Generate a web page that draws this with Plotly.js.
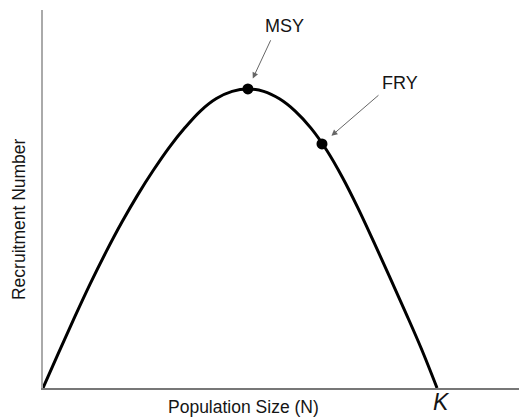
<!DOCTYPE html>
<html>
<head>
<meta charset="utf-8">
<script src="https://cdn.plot.ly/plotly-3.0.1.min.js"></script>
<style>html,body{margin:0;padding:0;background:#fff;}#chart{width:519px;height:417px;}</style>
</head>
<body>
<div id="chart"></div>
<script>
// Population size (percent of K) and recruitment (percent of MSY)
var popSize = [0, 4, 8, 12, 16, 20, 24, 28, 32, 36, 40, 44, 48, 52, 56, 60, 64, 68, 72, 76, 80, 84, 88, 92, 96, 100];
var recruitment = [0, 11.9, 23.6, 34.9, 45.5, 55.4, 64.5, 72.8, 80.4, 87.0, 92.7, 96.8, 99.2, 100, 99.2, 96.7, 92.6, 86.9, 79.5, 70.4, 60.0, 48.7, 37.1, 25.3, 13.2, 0];
var pointLabels = ["MSY", "FRY"];
var pointX = [52, 70.8];
var pointY = [100, 81.6];
var kLabel = "K";
var kValue = 100;
var xTitle = "Population Size (N)";
var yTitle = "Recruitment Number";

var FONT = "Liberation Sans, Arial, sans-serif";
var TXT = "#151515";

var traces = [
  {x: popSize, y: recruitment, mode: "lines", type: "scatter",
   line: {color: "#000", width: 3, shape: "spline", smoothing: 1},
   hoverinfo: "skip", cliponaxis: false},
  {x: pointX, y: pointY, mode: "markers", type: "scatter",
   marker: {color: "#000", size: 11}, cliponaxis: false, hoverinfo: "skip"}
];

var arrowOff = [{ax: 23.7, ay: -50.7, st: 11.5}, {ax: 58, ay: -50, st: 12.5}];
var textOff = [{xs: 37, ys: 62.5}, {xs: 78, ys: 61}];

var annotations = [];
for (var i = 0; i < pointLabels.length; i++) {
  annotations.push({
    x: pointX[i], y: pointY[i], xref: "x", yref: "y",
    text: " ", font: {size: 1},
    showarrow: true, ax: arrowOff[i].ax, ay: arrowOff[i].ay,
    standoff: arrowOff[i].st, arrowhead: 2, arrowsize: 1.2, arrowwidth: 1,
    arrowcolor: "#666"
  });
  annotations.push({
    x: pointX[i], y: pointY[i], xref: "x", yref: "y",
    text: pointLabels[i], showarrow: false,
    xshift: textOff[i].xs, yshift: textOff[i].ys,
    xanchor: "center", yanchor: "middle",
    font: {family: FONT, size: 18, color: TXT}
  });
}
annotations.push({
  x: kValue, y: 0, xref: "x", yref: "y", text: kLabel, showarrow: false,
  xshift: 4, yshift: -14, xanchor: "center", yanchor: "middle",
  font: {family: FONT, size: 23, color: TXT, style: "italic"}
});
annotations.push({
  x: 0.422, y: -0.05, xref: "paper", yref: "paper", text: xTitle, showarrow: false,
  xanchor: "center", yanchor: "middle",
  font: {family: FONT, size: 17.5, color: TXT}
});
annotations.push({
  x: -0.0504, y: 0.447, xref: "paper", yref: "paper", text: yTitle, showarrow: false,
  textangle: -90, xanchor: "center", yanchor: "middle",
  font: {family: FONT, size: 17.5, color: TXT}
});

var layout = {
  width: 519, height: 417,
  margin: {l: 43, r: 0, t: 10, b: 29, pad: 0},
  paper_bgcolor: "#fff", plot_bgcolor: "#fff",
  showlegend: false,
  xaxis: {range: [0, 120.8], showgrid: false, zeroline: false, showticklabels: false,
          ticks: "", showline: true, linecolor: "#777", linewidth: 2, fixedrange: true},
  yaxis: {range: [0, 126.4], showgrid: false, zeroline: false, showticklabels: false,
          ticks: "", showline: true, linecolor: "#aaa", linewidth: 2, fixedrange: true},
  annotations: annotations
};

Plotly.newPlot("chart", traces, layout, {staticPlot: true, displayModeBar: false});
</script>
</body>
</html>
